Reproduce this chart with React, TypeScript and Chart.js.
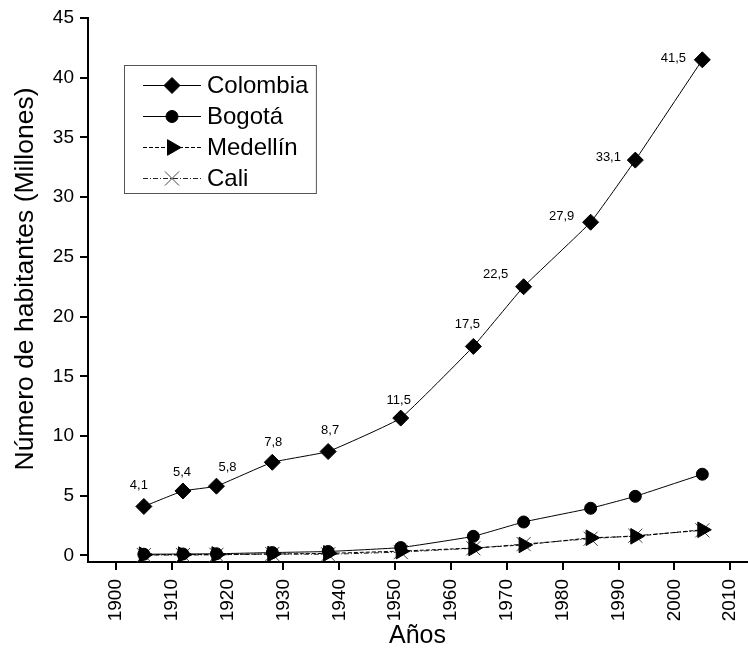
import React, { useEffect, useRef } from "react";
import { Chart, registerables } from "chart.js";

Chart.register(...registerables);

const FONT = "'Liberation Sans', Arial, sans-serif";

const years = [1905, 1912, 1918, 1928, 1938, 1951, 1964, 1973, 1985, 1993, 2005];
const colombia = [4.1, 5.4, 5.8, 7.8, 8.7, 11.5, 17.5, 22.5, 27.9, 33.1, 41.5];
const bogota = [0.1, 0.12, 0.14, 0.24, 0.33, 0.66, 1.6, 2.8, 3.95, 4.95, 6.8];
const medellin = [0.06, 0.07, 0.08, 0.12, 0.17, 0.36, 0.62, 0.88, 1.48, 1.6, 2.15];
const cali = [0.03, 0.03, 0.05, 0.12, 0.09, 0.28, 0.6, 0.95, 1.4, 1.65, 2.1];
const seriesNames = ["Colombia", "Bogotá", "Medellín", "Cali"];
const xTicks = [1900, 1910, 1920, 1930, 1940, 1950, 1960, 1970, 1980, 1990, 2000, 2010];
const yTicks = [0, 5, 10, 15, 20, 25, 30, 35, 40, 45];
const xTitle = "Años";
const yTitle = "Número de habitantes (Millones)";
// label centre offsets (px) for Colombia value labels
const labelOffsets = [
  [-5, -21], [-1, -19], [11, -19], [1, -20], [2, -21], [-2, -18],
  [-6, -22], [-28, -12], [-29, -6], [-27, -3], [-29, -1],
];

const toPoints = (vals: number[]) => vals.map((v, i) => ({ x: years[i], y: v }));

function drawMarker(ctx: CanvasRenderingContext2D, style: string, x: number, y: number, r: number, rotation: number) {
  ctx.beginPath();
  let rad = (rotation * Math.PI) / 180;
  if (style === "rectRot") {
    ctx.moveTo(x - r, y);
    ctx.lineTo(x, y - r);
    ctx.lineTo(x + r, y);
    ctx.lineTo(x, y + r);
    ctx.closePath();
    ctx.fill();
    ctx.stroke();
  } else if (style === "circle") {
    ctx.arc(x, y, r, 0, Math.PI * 2);
    ctx.fill();
    ctx.stroke();
  } else if (style === "triangle") {
    ctx.moveTo(x + Math.sin(rad) * r, y - Math.cos(rad) * r);
    rad += (2 * Math.PI) / 3;
    ctx.lineTo(x + Math.sin(rad) * r, y - Math.cos(rad) * r);
    rad += (2 * Math.PI) / 3;
    ctx.lineTo(x + Math.sin(rad) * r, y - Math.cos(rad) * r);
    ctx.closePath();
    ctx.fill();
    ctx.stroke();
  } else if (style === "crossRot") {
    const d = r * Math.SQRT1_2;
    ctx.moveTo(x - d, y - d);
    ctx.lineTo(x + d, y + d);
    ctx.moveTo(x - d, y + d);
    ctx.lineTo(x + d, y - d);
    ctx.stroke();
  }
}

const legendPlugin = {
  id: "customLegend",
  afterDraw(chart: any) {
    const ctx = chart.ctx as CanvasRenderingContext2D;
    ctx.save();
    // y-axis title
    ctx.save();
    ctx.translate(26, 279);
    ctx.rotate(-Math.PI / 2);
    ctx.font = `26.5px ${FONT}`;
    ctx.fillStyle = "#000";
    ctx.textAlign = "center";
    ctx.textBaseline = "middle";
    ctx.fillText(yTitle, 0, 0);
    ctx.restore();

    ctx.font = `24px ${FONT}`;
    const textX = 207;
    let maxW = 0;
    seriesNames.forEach((n) => (maxW = Math.max(maxW, ctx.measureText(n).width)));
    const boxL = 124.5, boxT = 65.5;
    const boxW = textX + maxW + 8 - boxL;
    const boxH = 128;
    ctx.strokeStyle = "#555";
    ctx.lineWidth = 1;
    ctx.strokeRect(boxL, boxT, boxW, boxH);
    const rowY = [85, 116, 147, 178];
    chart.data.datasets.forEach((ds: any, i: number) => {
      const y = rowY[i];
      ctx.save();
      ctx.strokeStyle = ds.borderColor;
      ctx.lineWidth = ds.borderWidth;
      ctx.setLineDash(ds.borderDash || []);
      ctx.beginPath();
      ctx.moveTo(143, y + 0.5);
      ctx.lineTo(201, y + 0.5);
      ctx.stroke();
      ctx.setLineDash([]);
      ctx.fillStyle = ds.pointBackgroundColor;
      ctx.strokeStyle = ds.pointBorderColor;
      ctx.lineWidth = ds.pointBorderWidth;
      drawMarker(ctx, ds.pointStyle, 172, y + 0.5, ds.pointRadius, ds.pointRotation || 0);
      ctx.restore();
      ctx.fillStyle = "#000";
      ctx.textAlign = "left";
      ctx.textBaseline = "middle";
      ctx.fillText(seriesNames[i], textX, y + 1);
    });
    ctx.restore();
  },
};

const valueLabelPlugin = {
  id: "valueLabels",
  afterDatasetsDraw(chart: any) {
    const ctx = chart.ctx as CanvasRenderingContext2D;
    const meta = chart.getDatasetMeta(0);
    ctx.save();
    ctx.font = `13px ${FONT}`;
    ctx.fillStyle = "#000";
    ctx.textAlign = "center";
    ctx.textBaseline = "middle";
    meta.data.forEach((pt: any, i: number) => {
      const [dx, dy] = labelOffsets[i];
      ctx.fillText(colombia[i].toFixed(1).replace(".", ","), pt.x + dx, pt.y + dy);
    });
    ctx.restore();
  },
};

export default function App() {
  const ref = useRef<HTMLCanvasElement | null>(null);
  useEffect(() => {
    if (!ref.current) return;
    Chart.defaults.font.family = FONT;
    const chart = new Chart(ref.current, {
      type: "line",
      data: {
        datasets: [
          {
            label: seriesNames[0],
            data: toPoints(colombia),
            borderColor: "#000",
            borderWidth: 1,
            pointStyle: "rectRot",
            pointRadius: 8,
            pointBackgroundColor: "#000",
            pointBorderColor: "#000",
            pointBorderWidth: 1,
            tension: 0.1,
          },
          {
            label: seriesNames[1],
            data: toPoints(bogota),
            borderColor: "#000",
            borderWidth: 1,
            pointStyle: "circle",
            pointRadius: 6,
            pointBackgroundColor: "#000",
            pointBorderColor: "#000",
            pointBorderWidth: 1,
            tension: 0.1,
          },
          {
            label: seriesNames[2],
            data: toPoints(medellin),
            borderColor: "#000",
            borderWidth: 1,
            borderDash: [4, 2],
            pointStyle: "triangle",
            pointRotation: 90,
            rotation: 90,
            pointRadius: 9,
            pointBackgroundColor: "#000",
            pointBorderColor: "#000",
            pointBorderWidth: 1,
          },
          {
            label: seriesNames[3],
            data: toPoints(cali),
            borderColor: "#222",
            borderWidth: 1,
            borderDash: [5, 2, 1, 2],
            pointStyle: "crossRot",
            pointRadius: 10,
            pointBackgroundColor: "#444",
            pointBorderColor: "#444",
            pointBorderWidth: 1,
          },
        ] as any,
      },
      options: {
        responsive: false,
        animation: false,
        layout: { padding: { top: 18, right: 0, left: 0, bottom: 0 } },
        plugins: { legend: { display: false }, tooltip: { enabled: false } },
        scales: {
          x: {
            type: "linear",
            min: 1895,
            max: 2013,
            afterBuildTicks: (s: any) => {
              s.ticks = xTicks.map((v) => ({ value: v }));
            },
            afterFit: (s: any) => {
              s.height = 86;
              s.paddingLeft = 0;
              s.paddingRight = 0;
            },
            ticks: {
              autoSkip: false,
              minRotation: 90,
              maxRotation: 90,
              padding: 9,
              color: "#000",
              font: { family: FONT, size: 19 },
              callback: (v: any) => String(v),
            },
            grid: { drawOnChartArea: false, drawTicks: true, tickLength: 8, color: "#000", lineWidth: 2 },
            border: { display: true, color: "#000", width: 2 },
            title: {
              display: true,
              text: xTitle,
              color: "#000",
              font: { family: FONT, size: 25 },
              padding: { top: 0, bottom: -3 },
            },
          },
          y: {
            type: "linear",
            min: -0.55,
            max: 45,
            afterBuildTicks: (s: any) => {
              s.ticks = yTicks.map((v) => ({ value: v }));
            },
            afterFit: (s: any) => {
              s.width = 88;
              s.paddingTop = 0;
              s.paddingBottom = 0;
            },
            ticks: {
              padding: 6,
              color: "#000",
              font: { family: FONT, size: 19 },
              callback: (v: any) => String(v),
            },
            grid: { drawOnChartArea: false, drawTicks: true, tickLength: 8, color: "#000", lineWidth: 2 },
            border: { display: true, color: "#000", width: 2 },
            title: { display: false },
          },
        },
      },
      plugins: [valueLabelPlugin, legendPlugin],
    });
    return () => chart.destroy();
  }, []);
  return (
    <div
      style={{
        position: "fixed",
        left: 0,
        top: 0,
        width: 748,
        height: 648,
        overflow: "hidden",
        background: "#fff",
      }}
    >
      <canvas ref={ref} width={758} height={648} style={{ display: "block" }} />
    </div>
  );
}
